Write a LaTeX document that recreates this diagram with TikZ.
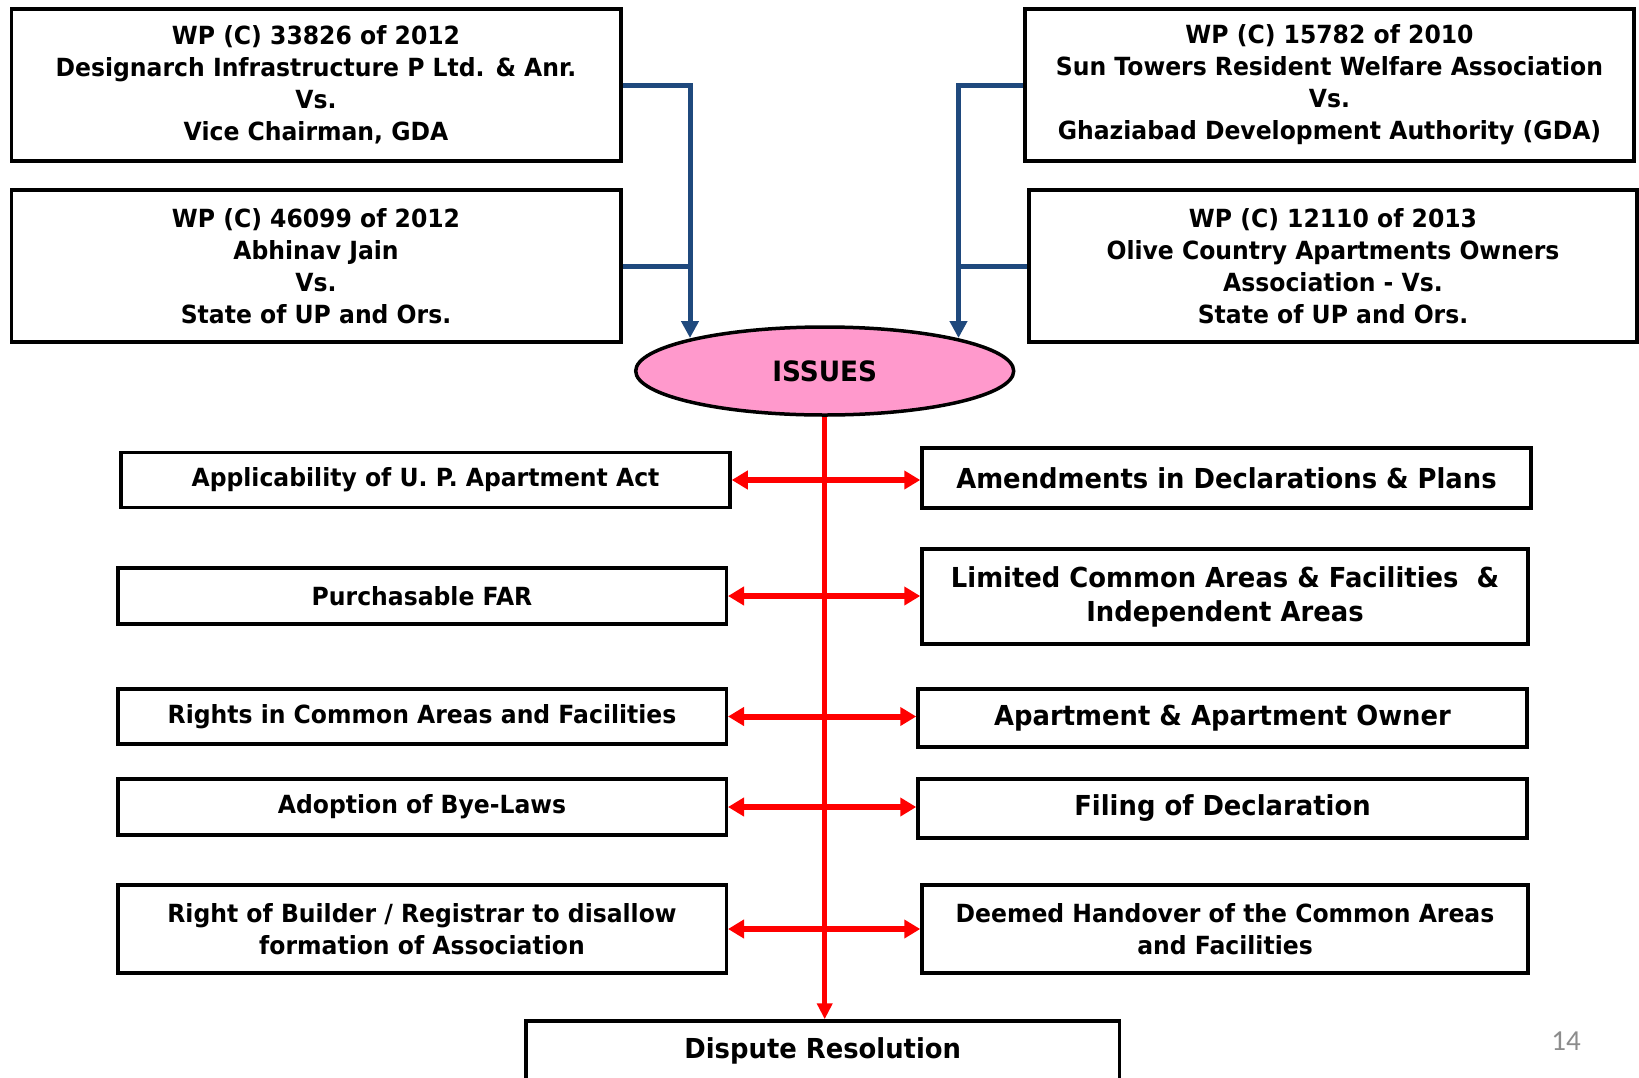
\documentclass[tikz,border=0pt]{standalone}
\usepackage{fontspec}
\setmainfont{DejaVu Sans}[FakeStretch=0.94]
\newfontfamily\pagefont{Carlito}
\usetikzlibrary{arrows.meta,shapes.geometric}
\definecolor{linkblue}{RGB}{31,73,125}
\definecolor{issuepink}{RGB}{255,153,204}
\definecolor{pagegrey}{RGB}{140,140,140}
\tikzset{
  sz/.style 2 args={minimum width=#1pt, minimum height=#2pt},
  box/.style={draw=black, line width=3.5pt, fill=white, inner sep=0pt, align=center,
    font=\bfseries\fontsize{25}{32}\selectfont},
  bigbox/.style={box, font=\bfseries\fontsize{27.5}{34}\selectfont},
  feed/.style={draw=linkblue, line width=5pt},
  feedarrow/.style={feed, -{Triangle[length=17pt,width=17pt]}},
  spine/.style={draw=red, line width=5pt, -{Triangle[length=16pt,width=15pt]}},
  branch/.style={draw=red, line width=6pt,
    {Triangle[length=16pt,width=18pt]}-{Triangle[length=16pt,width=18pt]}},
}
\begin{document}
\begin{tikzpicture}[x=1pt,y=-1pt]
\useasboundingbox (0,0) rectangle (1639,1077);

% writ petitions
\node[box, sz={609.5}{152}] (a) at (316,85)
  {WP (C) 33826 of 2012\\Designarch Infrastructure P Ltd. \& Anr.\\Vs.\\Vice Chairman, GDA};
\node[box, sz={609.5}{152}] (b) at (316,266)
  {WP (C) 46099 of 2012\\Abhinav Jain\\Vs.\\State of UP and Ors.};
\node[box, sz={609}{152}] (c) at (1329.5,85)
  {WP (C) 15782 of 2010\\Sun Towers Resident Welfare Association\\Vs.\\Ghaziabad Development Authority (GDA)};
\node[box, sz={608}{152}] (d) at (1333,266)
  {WP (C) 12110 of 2013\\Olive Country Apartments Owners\\Association - Vs.\\State of UP and Ors.};

% central issue
\node[ellipse, draw=black, line width=3.5pt, fill=issuepink, inner sep=0pt, sz={378}{88},
  font=\bfseries\fontsize{28}{34}\selectfont] (issues) at (824.7,371) {ISSUES};

% issues on the left
\node[box, sz={609}{55}] (l1) at (425.5,480) {Applicability of U. P. Apartment Act};
\node[box, sz={608.5}{56}] (l2) at (422,596) {Purchasable FAR};
\node[box, sz={608.5}{55}] (l3) at (422,716.5) {Rights in Common Areas and Facilities};
\node[box, sz={608.5}{56}] (l4) at (422,807) {Adoption of Bye-Laws};
\node[box, sz={608.5}{88}] (l5) at (422,929) {Right of Builder / Registrar to disallow\\formation of Association};

% issues on the right
\node[bigbox, sz={609}{60}] (r1) at (1226.5,478) {Amendments in Declarations \& Plans};
\node[bigbox, sz={606}{95}] (r2) at (1225,596.5) {Limited Common Areas \& Facilities~~\&\\Independent Areas};
\node[bigbox, sz={609}{58}] (r3) at (1222.5,718) {Apartment \& Apartment Owner};
\node[bigbox, sz={609}{59}] (r4) at (1222.5,808.5) {Filing of Declaration};
\node[box, sz={606}{88}] (r5) at (1225,929) {Deemed Handover of the Common Areas\\and Facilities};

% outcome
\node[bigbox, sz={593.5}{60}] (dispute) at (822.75,1051) {Dispute Resolution};

% page number
\node[font=\pagefont\fontsize{29}{29}\selectfont, text=pagegrey] (pg) at (1566,1041) {14};

% petitions feeding the issues
\coordinate (tl) at (690,338);
\coordinate (tr) at (958.5,338);
\draw[feedarrow] (a.east) -| (tl);
\draw[feed] (b.east) -- (b.east -| tl);
\draw[feedarrow] (c.west) -| (tr);
\draw[feed] (d.west) -- (d.west -| tr);

% spine and branches
\draw[spine] (issues.south) -- (issues.south |- dispute.north);
\draw[branch] (l1.east) -- (l1.east -| r1.west);
\draw[branch] (l2.east) -- (l2.east -| r2.west);
\draw[branch] (l3.east) -- (l3.east -| r3.west);
\draw[branch] (l4.east) -- (l4.east -| r4.west);
\draw[branch] (l5.east) -- (l5.east -| r5.west);
\end{tikzpicture}
\end{document}
